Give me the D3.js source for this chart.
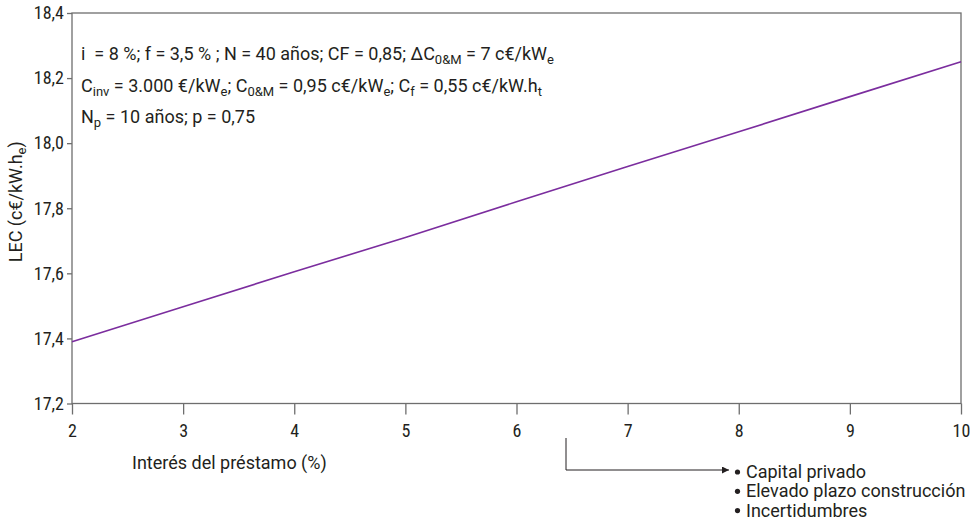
<!DOCTYPE html>
<html>
<head>
<meta charset="UTF-8">
<script src="https://cdn.jsdelivr.net/npm/d3@7"></script>
<style>
    body { margin: 0; background: #fff; }
    svg text { font-family: Roboto, 'Liberation Sans', sans-serif; fill: #231f20; }
    .axis path, .axis line { stroke: #6e6e6e; stroke-width: 1.3px; }
    .axis text { font-size: 18px; fill: #231f20; font-family: 'Roboto Condensed', Roboto, sans-serif; }
</style>
</head>
<body>
<div id="chart"></div>
<script>
// interest rate of the loan (%) and resulting LEC (c€/kWh)
const interes = [2, 3, 4, 5, 6, 7, 8, 9, 10];
const lec = [17.39, 17.497, 17.605, 17.71, 17.82, 17.928, 18.035, 18.143, 18.25];
const yTicks = [17.2, 17.4, 17.6, 17.8, 18.0, 18.2, 18.4];
const xTicks = [2, 3, 4, 5, 6, 7, 8, 9, 10];

// parameter notes, [text, isSubscript]
const notes = [
    [["i  = 8 %; f = 3,5 % ; N = 40 años; CF = 0,85; ΔC", 0], ["0&M", 1], [" = 7 c€/kW", 0], ["e", 1]],
    [["C", 0], ["inv", 1], [" = 3.000 €/kW", 0], ["e", 1], ["; C", 0], ["0&M", 1], [" = 0,95 c€/kW", 0], ["e", 1],
     ["; C", 0], ["f", 1], [" = 0,55 c€/kW.h", 0], ["t", 1]],
    [["N", 0], ["p", 1], [" = 10 años; p = 0,75", 0]]
];
const bullets = ["Capital privado", "Elevado plazo construcción", "Incertidumbres"];

const width = 974, height = 523;
const margin = {top: 13, right: 13, bottom: 119.5, left: 72};

const svg = d3.select("#chart").append("svg")
    .attr("width", width)
    .attr("height", height);

const x = d3.scaleLinear().domain([2, 10]).range([margin.left, width - margin.right]);
const y = d3.scaleLinear().domain([17.2, 18.4]).range([height - margin.bottom, margin.top]);
const comma = v => d3.format(".1f")(v).replace(".", ",");

// frame
svg.append("rect")
    .attr("x", x(2)).attr("y", y(18.4))
    .attr("width", x(10) - x(2)).attr("height", y(17.2) - y(18.4))
    .attr("fill", "none").attr("stroke", "#6e6e6e").attr("stroke-width", 1.3);

svg.append("g").attr("class", "axis")
    .attr("transform", `translate(0,${y(17.2)})`)
    .call(d3.axisBottom(x).tickValues(xTicks).tickSize(11).tickPadding(10).tickSizeOuter(0))
    .call(g => g.select(".domain").remove());

svg.append("g").attr("class", "axis")
    .attr("transform", `translate(${x(2)},0)`)
    .call(d3.axisLeft(y).tickValues(yTicks).tickFormat(comma).tickSize(5).tickPadding(3).tickSizeOuter(0))
    .call(g => g.select(".domain").remove());

// line
const line = d3.line().x((d, i) => x(interes[i])).y(d => y(d));
svg.append("path")
    .datum(lec)
    .attr("d", line)
    .attr("fill", "none")
    .attr("stroke", "#7b2d9e")
    .attr("stroke-width", 1.6);

// text with subscripts
const richText = (sel, parts, subSize) => {
    parts.forEach(([t, sub], i) => {
        const prevSub = i > 0 && parts[i - 1][1];
        const ts = sel.append("tspan").text(t);
        if (sub) ts.attr("font-size", subSize).attr("dy", 4);
        else if (prevSub) ts.attr("dy", -4);
    });
};

notes.forEach((parts, i) => {
    const t = svg.append("text")
        .attr("x", 81)
        .attr("y", 60 + i * 31.5)
        .attr("font-size", 18)
        .attr("xml:space", "preserve");
    richText(t, parts, 13);
});

// axis titles
const yl = svg.append("text")
    .attr("transform", `translate(22,${y(17.82)}) rotate(-90)`)
    .attr("text-anchor", "middle")
    .attr("font-size", 18);
richText(yl, [["LEC (c€/kW.h", 0], ["e", 1], [")", 0]], 13);

svg.append("text")
    .attr("x", 132)
    .attr("y", 469)
    .attr("font-size", 18)
    .text("Interés del préstamo (%)");

// arrow to the list of causes
svg.append("defs").append("marker")
    .attr("id", "head")
    .attr("viewBox", "0 0 10 10")
    .attr("refX", 10).attr("refY", 5)
    .attr("markerWidth", 9).attr("markerHeight", 7)
    .attr("markerUnits", "userSpaceOnUse")
    .attr("orient", "auto")
    .append("path").attr("d", "M0,0L10,5L0,10Z").attr("fill", "#231f20");

svg.append("path")
    .attr("d", "M566,438V470H729")
    .attr("fill", "none")
    .attr("stroke", "#231f20")
    .attr("stroke-width", 1)
    .attr("marker-end", "url(#head)");

bullets.forEach((b, i) => {
    const by = 478 + i * 19.3;
    svg.append("circle")
        .attr("cx", 737.5)
        .attr("cy", by - 6)
        .attr("r", 2.6)
        .attr("fill", "#231f20");
    svg.append("text")
        .attr("x", 746)
        .attr("y", by)
        .attr("font-size", 18)
        .text(b);
});
</script>
</body>
</html>
